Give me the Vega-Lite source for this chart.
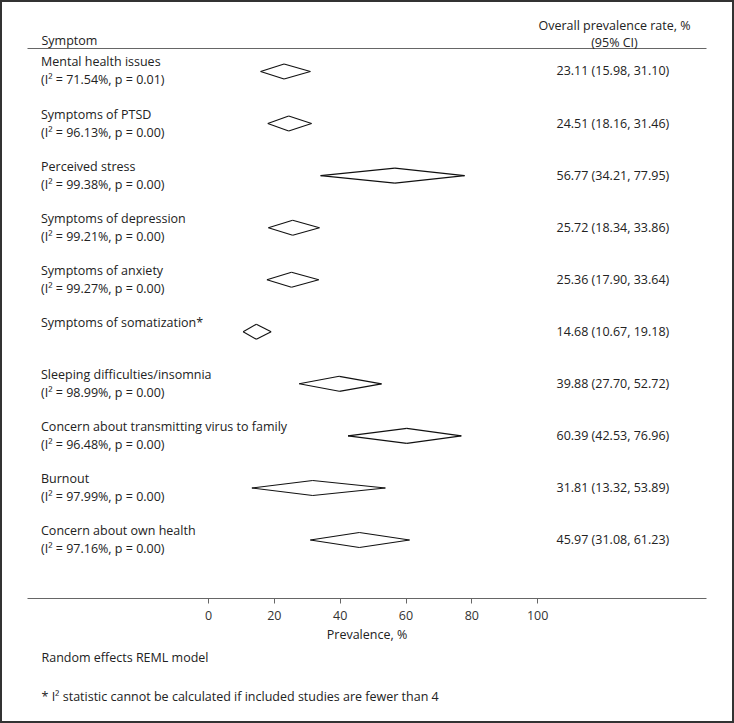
{
  "$schema": "https://vega.github.io/schema/vega-lite/v6.json",
  "width": 734,
  "height": 723,
  "autosize": "none",
  "padding": 0,
  "background": "white",
  "config": {
    "font": "Open Sans",
    "view": {"stroke": "#333333", "strokeWidth": 4},
    "scale": {"pointPadding": 0.5},
    "text": {"fontSize": 12.5, "color": "#222222"},
    "axis": {"grid": false, "titleFontWeight": "normal", "titleFontSize": 12.5, "labelFontSize": 12.5, "titleColor": "#222222", "labelColor": "#333333"}
  },
  "data": {
    "values": [
      {"symptom": "Mental health issues", "stat": "(I² = 71.54%, p = 0.01)", "est": 23.11, "lo": 15.98, "hi": 31.10, "ci": "23.11 (15.98, 31.10)"},
      {"symptom": "Symptoms of PTSD", "stat": "(I² = 96.13%, p = 0.00)", "est": 24.51, "lo": 18.16, "hi": 31.46, "ci": "24.51 (18.16, 31.46)"},
      {"symptom": "Perceived stress", "stat": "(I² = 99.38%, p = 0.00)", "est": 56.77, "lo": 34.21, "hi": 77.95, "ci": "56.77 (34.21, 77.95)"},
      {"symptom": "Symptoms of depression", "stat": "(I² = 99.21%, p = 0.00)", "est": 25.72, "lo": 18.34, "hi": 33.86, "ci": "25.72 (18.34, 33.86)"},
      {"symptom": "Symptoms of anxiety", "stat": "(I² = 99.27%, p = 0.00)", "est": 25.36, "lo": 17.90, "hi": 33.64, "ci": "25.36 (17.90, 33.64)"},
      {"symptom": "Symptoms of somatization*", "stat": "", "est": 14.68, "lo": 10.67, "hi": 19.18, "ci": "14.68 (10.67, 19.18)"},
      {"symptom": "Sleeping difficulties/insomnia", "stat": "(I² = 98.99%, p = 0.00)", "est": 39.88, "lo": 27.70, "hi": 52.72, "ci": "39.88 (27.70, 52.72)"},
      {"symptom": "Concern about transmitting virus to family", "stat": "(I² = 96.48%, p = 0.00)", "est": 60.39, "lo": 42.53, "hi": 76.96, "ci": "60.39 (42.53, 76.96)"},
      {"symptom": "Burnout", "stat": "(I² = 97.99%, p = 0.00)", "est": 31.81, "lo": 13.32, "hi": 53.89, "ci": "31.81 (13.32, 53.89)"},
      {"symptom": "Concern about own health", "stat": "(I² = 97.16%, p = 0.00)", "est": 45.97, "lo": 31.08, "hi": 61.23, "ci": "45.97 (31.08, 61.23)"}
    ]
  },
  "resolve": {"axis": {"x": "independent", "y": "independent"}},
  "layer": [
    {
      "mark": {"type": "rule", "y2Offset": -7.5, "color": "#111111", "strokeWidth": 1.1},
      "encoding": {
        "x": {"field": "lo", "type": "quantitative",
          "scale": {"domain": [-55, 151.3], "range": [27, 706], "nice": false, "zero": false},
          "axis": {"orient": "bottom", "offset": -125, "values": [0, 20, 40, 60, 80, 100], "title": "Prevalence, %",
            "domainColor": "#666666", "tickColor": "#666666", "tickSize": 5, "labelPadding": 6, "titlePadding": 7}},
        "x2": {"field": "est"},
        "y": {"field": "symptom", "type": "nominal", "sort": null,
          "scale": {"range": [45.47, 566.03]},
          "axis": {"orient": "left", "domain": false, "ticks": false, "labels": false, "title": "Symptom",
            "titleAngle": 0, "titleX": 41, "titleY": 40, "titleAlign": "left", "titleBaseline": "middle"}},
        "y2": {"field": "symptom"}
      }
    },
    {
      "mark": {"type": "rule", "yOffset": -7.5, "color": "#111111", "strokeWidth": 1.1},
      "encoding": {
        "x": {"field": "est", "type": "quantitative",
          "axis": {"orient": "top", "offset": -48, "labels": false, "ticks": false, "title": null, "domainColor": "#666666"}},
        "x2": {"field": "hi"},
        "y": {"field": "symptom", "type": "nominal", "sort": null, "axis": null},
        "y2": {"field": "symptom"}
      }
    },
    {
      "mark": {"type": "rule", "y2Offset": 7.5, "color": "#111111", "strokeWidth": 1.1},
      "encoding": {
        "x": {"field": "lo", "type": "quantitative",
          "axis": {"orient": "bottom", "offset": 0, "domain": false, "labels": false, "ticks": false,
            "title": ["Random effects REML model", "* I² statistic cannot be calculated if included studies are fewer than 4"],
            "titleX": 41, "titleY": -66, "titleAlign": "left", "titleBaseline": "middle", "titleAngle": 0, "titleLineHeight": 39}},
        "x2": {"field": "est"},
        "y": {"field": "symptom", "type": "nominal", "sort": null, "axis": null},
        "y2": {"field": "symptom"}
      }
    },
    {
      "mark": {"type": "rule", "yOffset": 7.5, "color": "#111111", "strokeWidth": 1.1},
      "encoding": {
        "x": {"field": "est", "type": "quantitative", "axis": null},
        "x2": {"field": "hi"},
        "y": {"field": "symptom", "type": "nominal", "sort": null,
          "axis": {"orient": "right", "domain": false, "ticks": false, "labels": false,
            "title": ["Overall prevalence rate, %", "(95% CI)"],
            "titleAngle": 0, "titleX": -120, "titleY": 25, "titleAlign": "center", "titleBaseline": "middle", "titleLineHeight": 17}},
        "y2": {"field": "symptom"}
      }
    },
    {
      "mark": {"type": "text", "align": "left", "baseline": "middle", "dx": 14, "dy": -9},
      "encoding": {
        "x": {"datum": -55, "type": "quantitative", "axis": null},
        "y": {"field": "symptom", "type": "nominal", "sort": null, "axis": null},
        "text": {"field": "symptom"}
      }
    },
    {
      "mark": {"type": "text", "align": "left", "baseline": "middle", "dx": 14, "dy": 9},
      "encoding": {
        "x": {"datum": -55, "type": "quantitative", "axis": null},
        "y": {"field": "symptom", "type": "nominal", "sort": null, "axis": null},
        "text": {"field": "stat"}
      }
    },
    {
      "mark": {"type": "text", "align": "center", "baseline": "middle"},
      "encoding": {
        "x": {"datum": 123, "type": "quantitative", "axis": null},
        "y": {"field": "symptom", "type": "nominal", "sort": null, "axis": null},
        "text": {"field": "ci"}
      }
    }
  ]
}
